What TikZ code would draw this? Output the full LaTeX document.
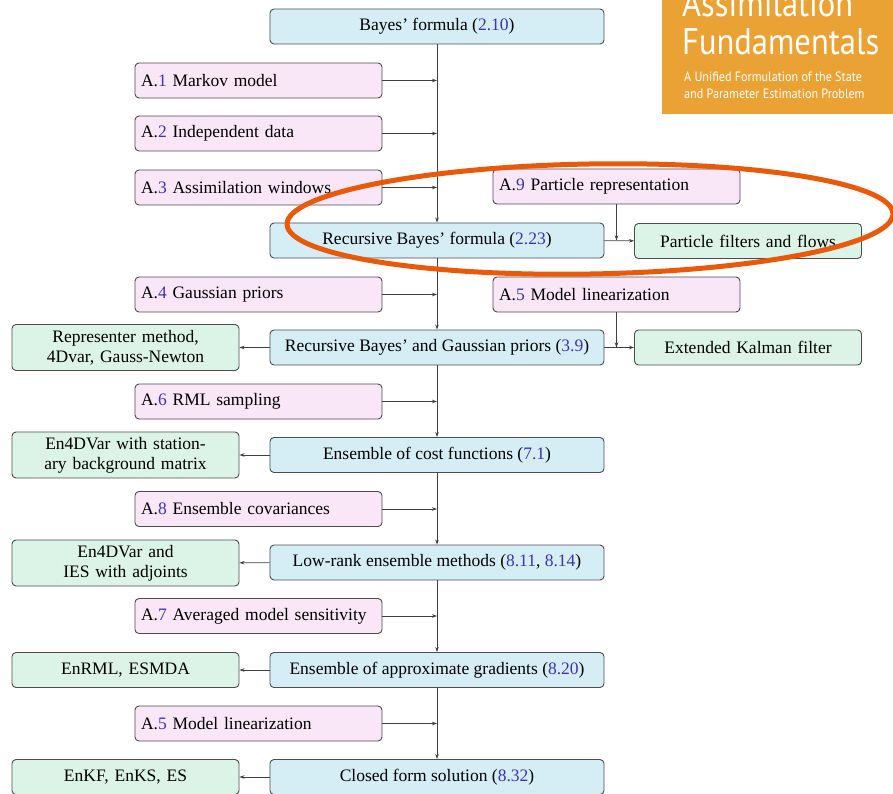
\documentclass[tikz,border=0pt]{standalone}
\usepackage{fontspec}
\setmainfont{Liberation Serif}
\newfontfamily\coverfont{PT Sans}
\usepackage{tikz}
\usetikzlibrary{arrows.meta,positioning}

\definecolor{resblue}{RGB}{213,238,245}
\definecolor{asmpink}{RGB}{249,230,246}
\definecolor{methgreen}{RGB}{220,243,231}
\definecolor{eqnblue}{RGB}{62,50,172}
\definecolor{coverorange}{RGB}{233,162,51}
\definecolor{markorange}{RGB}{232,90,10}

\newcommand{\eqn}[1]{\textcolor{eqnblue}{#1}}

\begin{document}
\begin{tikzpicture}[x=1pt,y=-1pt,
	font=\fontsize{17.5}{20}\selectfont,
	box/.style={draw=black!70, line width=0.9pt, rounded corners=4pt, minimum height=35pt, inner xsep=6pt, inner ysep=0pt},
	result/.style={box, fill=resblue, minimum width=334pt},
	assume/.style={box, fill=asmpink, text width=235pt, align=left},
	method/.style={box, fill=methgreen, minimum width=227pt, text width=215pt, align=center},
	flow/.style={draw=black!75, line width=0.7pt, -{Stealth[length=5pt,width=3.5pt]}}]
		\useasboundingbox (0,0) rectangle (893,794);
		\clip (0,0) rectangle (893,794);
		
		% main chain
		\node[result] (bayes) at (437,26.5) {Bayes' formula (\eqn{2.10})};
		\node[result] (rb) at (437,240.5) {Recursive Bayes' formula (\eqn{2.23})};
		\node[result] (rbg) at (437,347.5) {Recursive Bayes' and Gaussian priors (\eqn{3.9})};
		\node[result] (ecf) at (437,455) {Ensemble of cost functions (\eqn{7.1})};
		\node[result] (lr) at (437,562.5) {Low-rank ensemble methods (\eqn{8.11}, \eqn{8.14})};
		\node[result] (eag) at (437,670) {Ensemble of approximate gradients (\eqn{8.20})};
		\node[result] (cfs) at (437,777) {Closed form solution (\eqn{8.32})};
		
		% assumptions
		\node[assume] (a1) at (258.5,80.5) {A.\eqn{1} Markov model};
		\node[assume] (a2) at (258.5,133.5) {A.\eqn{2} Independent data};
		\node[assume] (a3) at (258.5,187.5) {A.\eqn{3} Assimilation windows};
		\node[assume] (a9) at (616.5,186.5) {A.\eqn{9} Particle representation};
		\node[assume] (a4) at (258.5,294.5) {A.\eqn{4} Gaussian priors};
		\node[assume] (a5) at (616.5,294.5) {A.\eqn{5} Model linearization};
		\node[assume] (a6) at (258.5,401.5) {A.\eqn{6} RML sampling};
		\node[assume] (a8) at (258.5,509) {A.\eqn{8} Ensemble covariances};
		\node[assume] (a7) at (258.5,616) {A.\eqn{7} Averaged model sensitivity};
		\node[assume] (a5b) at (258.5,723.5) {A.\eqn{5} Model linearization};
		
		% methods
		\node[method] (pf) at (748,241) {Particle filters and flows};
		\node[method] (ekf) at (748,347.5) {Extended Kalman filter};
		\node[method, minimum height=46pt] (rep) at (125.5,347.5) {Representer method,\\4Dvar, Gauss-Newton};
		\node[method, minimum height=46pt] (en4) at (125.5,455) {En4DVar with station-\\ary background matrix};
		\node[method, minimum height=46pt] (ies) at (125.5,563) {En4DVar and\\IES with adjoints};
		\node[method] (enrml) at (125.5,670) {EnRML, ESMDA};
		\node[method] (enkf) at (125.5,777) {EnKF, EnKS, ES};
		
		% connectors
		\draw[flow] (bayes) -- (rb);
		\draw[flow] (rb) -- (rbg);
		\draw[flow] (rbg) -- (ecf);
		\draw[flow] (ecf) -- (lr);
		\draw[flow] (lr) -- (eag);
		\draw[flow] (eag) -- (cfs);
		\foreach \a in {a1,a2,a3,a4,a6,a8,a7,a5b}
			\draw[flow] (\a) -- (\a -| bayes);
		\draw[flow] (a9) -- (a9 |- rb);
		\draw[flow] (rb) -- (pf);
		\draw[flow] (a5) -- (a5 |- rbg);
		\draw[flow] (rbg) -- (ekf);
		\draw[flow] (rbg) -- (rep);
		\draw[flow] (ecf) -- (en4);
		\draw[flow] (lr) -- (ies);
		\draw[flow] (eag) -- (enrml);
		\draw[flow] (cfs) -- (enkf);
		
		% book cover
		\fill[coverorange] (662,0) rectangle (893,114);
		\node[anchor=base west, inner sep=0pt, text=white, xscale=0.88, font=\coverfont\fontsize{37}{37}\selectfont] (cvtop) at (682,17) {Assimilation};
		\node[anchor=base west, inner sep=0pt, text=white, xscale=0.88, font=\coverfont\fontsize{37}{37}\selectfont] (cvtitle) at (682,55) {Fundamentals};
		\node[anchor=north west, inner sep=0pt, align=left, text=white, xscale=0.9, font=\coverfont\fontsize{13.5}{17}\selectfont] (cvsub) at (684,72) {A Unified Formulation of the State\\and Parameter Estimation Problem};
		
		% highlight
		\draw[markorange, line width=5pt, rotate around={1:(590,219)}] (590,219) ellipse [x radius=303pt, y radius=55pt];
	\end{tikzpicture}
\end{document}
